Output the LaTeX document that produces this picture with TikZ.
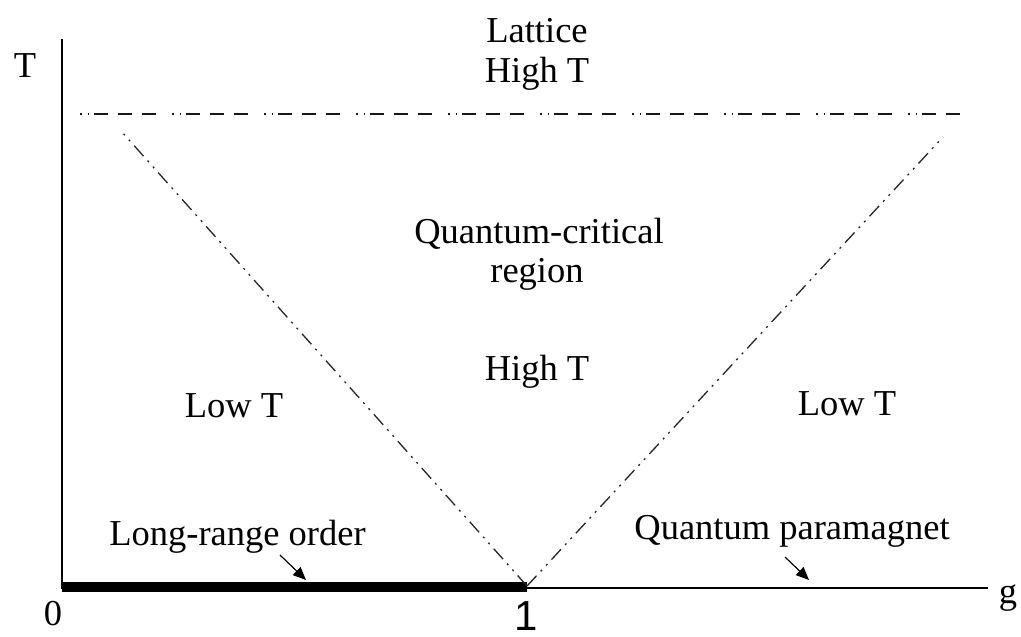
\documentclass[tikz,border=0pt]{standalone}
\usepackage{fontspec}
\setmainfont{Liberation Serif}
\newfontfamily\arialfont{Liberation Sans}
\usetikzlibrary{arrows.meta}
\begin{document}
\begin{tikzpicture}[x=1pt,y=-1pt,
  lbl/.style={font=\fontsize{36.5}{40}\selectfont, inner sep=0pt, anchor=base},
  axisline/.style={line width=1.8pt, black},
  dashdotline/.style={line width=1.8pt, black!90, dash pattern=on 1.5pt off 6pt on 1.5pt off 5pt on 14pt off 10pt on 14pt off 10pt on 14pt off 16pt},
  diagline/.style={line width=1.3pt, black!85, dash pattern=on 14pt off 6pt on 2pt off 6pt on 2pt off 6pt},
  ptr/.style={line width=1.2pt, -{Triangle[length=13pt,width=11pt]}}
]
\useasboundingbox (0,0) rectangle (1021,637);
% axes
\coordinate (O) at (62,588);
\coordinate (Ttop) at (62,39);
\coordinate (gend) at (988,588);
\coordinate (C) at (527,586);
\draw[axisline] (Ttop) -- (O) -- (gend);
\fill (62,582) rectangle (527,592);
% lattice line
\coordinate (L1) at (80,114);
\coordinate (L2) at (969,114);
\draw[dashdotline] (L1) -- (L2);
% crossover lines
\coordinate (DL) at (122,132);
\coordinate (DR) at (943,137);
\draw[diagline] (C) -- (DL);
\draw[diagline] (C) -- (DR);
% labels
\node[lbl] (Tlab) at (25,77) {T};
\node[lbl] (lat) at (537,42) {Lattice};
\node[lbl] (latT) at (537,82) {High T};
\node[lbl] (qc1) at (539,243) {Quantum-critical};
\node[lbl] (qc2) at (537,282) {region};
\node[lbl] (hiT) at (537,380) {High T};
\node[lbl] (loL) at (234,417) {Low T};
\node[lbl] (loR) at (847,415) {Low T};
\node[lbl] (lro) at (237.5,545) {Long-range order};
\node[lbl] (qp) at (792,539) {Quantum paramagnet};
\node[lbl] (zero) at (53,625) {0};
\node[lbl, text depth=0pt, font=\arialfont\fontsize{42}{46}\selectfont] (one) at (526,630) {1};
\node[lbl] (glab) at (1008,603) {g};
% pointers
\coordinate (a1s) at (280,555);
\coordinate (a1e) at (306,580);
\coordinate (a2s) at (785,557);
\coordinate (a2e) at (809,580);
\draw[ptr] (a1s) -- (a1e);
\draw[ptr] (a2s) -- (a2e);
\end{tikzpicture}
\end{document}
